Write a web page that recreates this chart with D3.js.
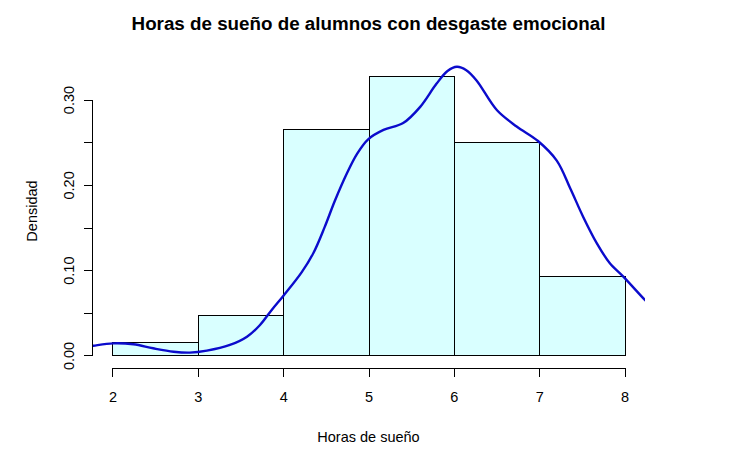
<!DOCTYPE html>
<html>
<head>
<meta charset="utf-8">
<script src="https://cdn.jsdelivr.net/npm/d3@7"></script>
<style>
  body { margin: 0; background: #fff; }
  text { font-family: "Liberation Sans", Arial, sans-serif; }
</style>
</head>
<body>
<div id="chart"></div>
<script>
// histogram bins (hours) and densities
var binStart = [2, 3, 4, 5, 6, 7];
var binEnd = [3, 4, 5, 6, 7, 8];
var binDensity = [0.015625, 0.046875, 0.265625, 0.328125, 0.25, 0.09375];

// kernel density curve
var kdeX = [1.70, 1.77, 2.00, 2.24, 2.47, 2.71, 2.90, 3.10, 3.37, 3.57, 3.72, 3.86, 4.00, 4.21, 4.35, 4.48,
            4.60, 4.74, 4.86, 4.99, 5.17, 5.40, 5.60, 5.79, 5.92, 6.03, 6.14, 6.26, 6.50, 6.73, 6.98,
            7.20, 7.36, 7.51, 7.67, 7.82, 7.98, 8.23, 8.35];
var kdeY = [0.011, 0.012, 0.0148, 0.0137, 0.009, 0.005, 0.0039, 0.0062, 0.0129, 0.0226, 0.036, 0.054, 0.071, 0.098, 0.121, 0.151,
            0.182, 0.214, 0.237, 0.254, 0.265, 0.273, 0.292, 0.319, 0.334, 0.339, 0.335, 0.323, 0.288, 0.269, 0.252,
            0.229, 0.196, 0.163, 0.132, 0.109, 0.093, 0.066, 0.054];

var xTicks = [2, 3, 4, 5, 6, 7, 8];
var yTicks = [0, 0.05, 0.10, 0.15, 0.20, 0.25, 0.30];
var yLabels = [0, 0.10, 0.20, 0.30];

var svg = d3.select("#chart").append("svg"),
    margin = {top: 54, right: 88, bottom: 98, left: 92},
    width = 733 - margin.left - margin.right,
    height = 466 - margin.top - margin.bottom,
    g = svg
    .attr("width", width + margin.left + margin.right)
    .attr("height", height + margin.top + margin.bottom)
    .append("g").attr("transform", "translate(" + margin.left + "," + margin.top + ")");

var x = d3.scaleLinear().domain([1.754, 8.234]).range([0, width]);
var y = d3.scaleLinear().domain([-0.0141, 0.354]).range([height, 0]);

svg.append("defs").append("clipPath").attr("id", "plotclip")
  .append("rect").attr("width", width).attr("height", height);

// bars
g.selectAll(".bar")
  .data(binDensity)
  .enter().append("rect")
    .attr("class", "bar")
    .attr("x", function(d, i) { return x(binStart[i]); })
    .attr("y", function(d) { return y(d); })
    .attr("width", function(d, i) { return x(binEnd[i]) - x(binStart[i]); })
    .attr("height", function(d) { return y(0) - y(d); })
    .attr("fill", "#d9ffff")
    .attr("stroke", "#000")
    .attr("stroke-width", 1)
    .attr("shape-rendering", "crispEdges");

// density curve
var line = d3.line()
    .curve(d3.curveCatmullRom)
    .x(function(d, i) { return x(kdeX[i]); })
    .y(function(d) { return y(d); });

g.append("path")
    .datum(kdeY)
    .attr("clip-path", "url(#plotclip)")
    .attr("fill", "none")
    .attr("stroke", "#0b0bcc")
    .attr("stroke-width", 2.4)
    .attr("stroke-linejoin", "round")
    .attr("d", line);

// x axis (R style)
var xAxis = g.append("g").attr("transform", "translate(0," + height + ")");
xAxis.append("line")
    .attr("x1", x(xTicks[0])).attr("x2", x(xTicks[xTicks.length - 1]))
    .attr("stroke", "#000").attr("shape-rendering", "crispEdges");
xAxis.selectAll(".xt").data(xTicks).enter().append("line")
    .attr("x1", function(d) { return x(d); }).attr("x2", function(d) { return x(d); })
    .attr("y1", 0).attr("y2", 9)
    .attr("stroke", "#000").attr("shape-rendering", "crispEdges");
xAxis.selectAll(".xl").data(xTicks).enter().append("text")
    .attr("x", function(d) { return x(d); })
    .attr("y", 34)
    .attr("text-anchor", "middle")
    .style("font-size", "14.5px")
    .text(function(d) { return d; });

// y axis
var yAxis = g.append("g");
yAxis.append("line")
    .attr("y1", y(yTicks[0])).attr("y2", y(yTicks[yTicks.length - 1]))
    .attr("stroke", "#000").attr("shape-rendering", "crispEdges");
yAxis.selectAll(".yt").data(yTicks).enter().append("line")
    .attr("y1", function(d) { return y(d); }).attr("y2", function(d) { return y(d); })
    .attr("x1", 0).attr("x2", -8)
    .attr("stroke", "#000").attr("shape-rendering", "crispEdges");
yAxis.selectAll(".yl").data(yLabels).enter().append("text")
    .attr("transform", function(d) { return "translate(-18," + y(d) + ") rotate(-90)"; })
    .attr("text-anchor", "middle")
    .style("font-size", "14.5px")
    .text(function(d) { return d3.format(".2f")(d); });

// titles
svg.append("text")
    .attr("x", margin.left + width / 2)
    .attr("y", 30)
    .attr("text-anchor", "middle")
    .style("font-size", "18.8px")
    .style("font-weight", "bold")
    .text("Horas de sueño de alumnos con desgaste emocional");

svg.append("text")
    .attr("x", margin.left + width / 2)
    .attr("y", 442)
    .attr("text-anchor", "middle")
    .style("font-size", "14.5px")
    .text("Horas de sueño");

svg.append("text")
    .attr("transform", "translate(37,211) rotate(-90)")
    .attr("text-anchor", "middle")
    .style("font-size", "14.5px")
    .text("Densidad");
</script>
</body>
</html>
